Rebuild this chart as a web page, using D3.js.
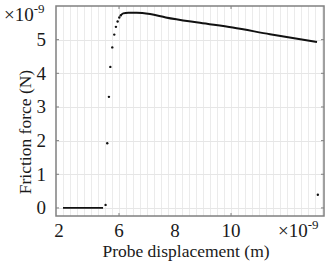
<!DOCTYPE html>
<html>
<head>
<meta charset="utf-8">
<script src="https://cdn.jsdelivr.net/npm/d3@7"></script>
<style>
  svg text, svg tspan { font-family: 'Times New Roman', 'Liberation Serif', serif !important; }
</style>
</head>
<body style="margin:0">
<script>
// displacement in units of 1e-9 m, force in units of 1e-9 N
var flatX = [4.0, 5.43];
var flatY = [0, 0];
var jumpX = [5.52, 5.58, 5.64, 5.69, 5.76, 5.83, 5.89, 5.95, 6.01, 6.06, 13.10];
var jumpY = [0.09, 1.92, 3.30, 4.19, 4.77, 5.15, 5.38, 5.54, 5.66, 5.72, 0.39];
var curveX = [6.06, 6.15, 6.33, 6.63, 7.11, 7.67, 8.89, 10.06, 11.39, 13.07];
var curveY = [5.72, 5.78, 5.80, 5.80, 5.76, 5.66, 5.50, 5.36, 5.16, 4.93];

var xTickVals = [3.86, 6, 8, 10];
var xTickLabels = ["2", "6", "8", "10"];
var xTickMarks = [6, 10];
var yTickVals = [0, 1, 2, 3, 4, 5];

var width = 332, height = 265;
var pLeft = 56, pRight = 324, pTop = 6, pBottom = 216;
var ink = "#1a1a1a";

var svg = d3.select("body").append("svg")
  .attr("width", width)
  .attr("height", height)
  .style("display", "block");

var x = d3.scaleLinear().domain([3.75, 13.32]).range([pLeft, pRight]);
var y = d3.scaleLinear().domain([-0.24, 6.0]).range([pBottom, pTop]);

function label(sel, size) {
  return sel.style("font-family", "'Times New Roman'")
    .attr("font-size", size).attr("fill", ink);
}

// grid
var gridX = d3.range(4, 13.3, 0.25);
svg.append("g").selectAll("line").data(gridX).enter().append("line")
  .attr("x1", function(d) { return Math.round(x(d)) + 0.5; })
  .attr("x2", function(d) { return Math.round(x(d)) + 0.5; })
  .attr("y1", pTop).attr("y2", pBottom)
  .attr("stroke", "#ebebeb").attr("stroke-width", 1);

svg.append("g").selectAll("line").data(yTickVals).enter().append("line")
  .attr("x1", pLeft).attr("x2", pRight)
  .attr("y1", function(d) { return Math.round(y(d)) + 0.5; })
  .attr("y2", function(d) { return Math.round(y(d)) + 0.5; })
  .attr("stroke", "#e6e6e6").attr("stroke-width", 1);

// data
var line = d3.line().x(function(d) { return x(d[0]); }).y(function(d) { return y(d[1]); });

svg.append("path")
  .datum(d3.zip(flatX, flatY))
  .attr("d", line)
  .attr("fill", "none").attr("stroke", "#111").attr("stroke-width", 1.6);

svg.append("path")
  .datum(d3.zip(curveX, curveY))
  .attr("d", line.curve(d3.curveMonotoneX))
  .attr("fill", "none").attr("stroke", "#111").attr("stroke-width", 2);

svg.append("g").selectAll("circle").data(d3.zip(jumpX, jumpY)).enter().append("circle")
  .attr("cx", function(d) { return x(d[0]); })
  .attr("cy", function(d) { return y(d[1]); })
  .attr("r", 1.2)
  .attr("fill", "#111");

// axes box
var axisCol = "#808080";
svg.append("rect")
  .attr("x", pLeft).attr("y", pTop)
  .attr("width", pRight - pLeft).attr("height", pBottom - pTop)
  .attr("fill", "none").attr("stroke", axisCol).attr("stroke-width", 1.5);

// tick marks
yTickVals.forEach(function(v) {
  svg.append("line").attr("x1", pLeft).attr("x2", pLeft + 3)
    .attr("y1", y(v)).attr("y2", y(v)).attr("stroke", axisCol);
  svg.append("line").attr("x1", pRight - 3).attr("x2", pRight)
    .attr("y1", y(v)).attr("y2", y(v)).attr("stroke", axisCol);
});
xTickMarks.forEach(function(v) {
  svg.append("line").attr("x1", x(v)).attr("x2", x(v))
    .attr("y1", pBottom).attr("y2", pBottom - 3).attr("stroke", axisCol);
  svg.append("line").attr("x1", x(v)).attr("x2", x(v))
    .attr("y1", pTop).attr("y2", pTop + 3).attr("stroke", axisCol);
});

// tick labels
label(svg.append("g").selectAll("text").data(xTickVals).enter().append("text"), 19)
  .attr("x", function(d) { return x(d); })
  .attr("y", 237)
  .attr("text-anchor", "middle")
  .text(function(d, i) { return xTickLabels[i]; });

label(svg.append("g").selectAll("text").data(yTickVals).enter().append("text"), 19)
  .attr("x", 46)
  .attr("y", function(d) { return y(d) + 6.5; })
  .attr("text-anchor", "end")
  .text(function(d) { return d; });

// exponent labels
var expTop = label(svg.append("text"), 19).attr("x", 4).attr("y", 21);
expTop.append("tspan").text("\u00d710");
expTop.append("tspan").attr("dy", -8).attr("font-size", 13).text("-9");

var expBot = label(svg.append("text"), 19).attr("x", 278).attr("y", 237);
expBot.append("tspan").text("\u00d710");
expBot.append("tspan").attr("dy", -8).attr("font-size", 13).text("-9");

// axis titles
label(svg.append("text"), 17.5)
  .attr("x", 186).attr("y", 257)
  .attr("text-anchor", "middle")
  .text("Probe displacement (m)");

label(svg.append("text"), 17.5)
  .attr("transform", "translate(31,132) rotate(-90)")
  .attr("text-anchor", "middle")
  .text("Friction force (N)");
</script>
</body>
</html>
